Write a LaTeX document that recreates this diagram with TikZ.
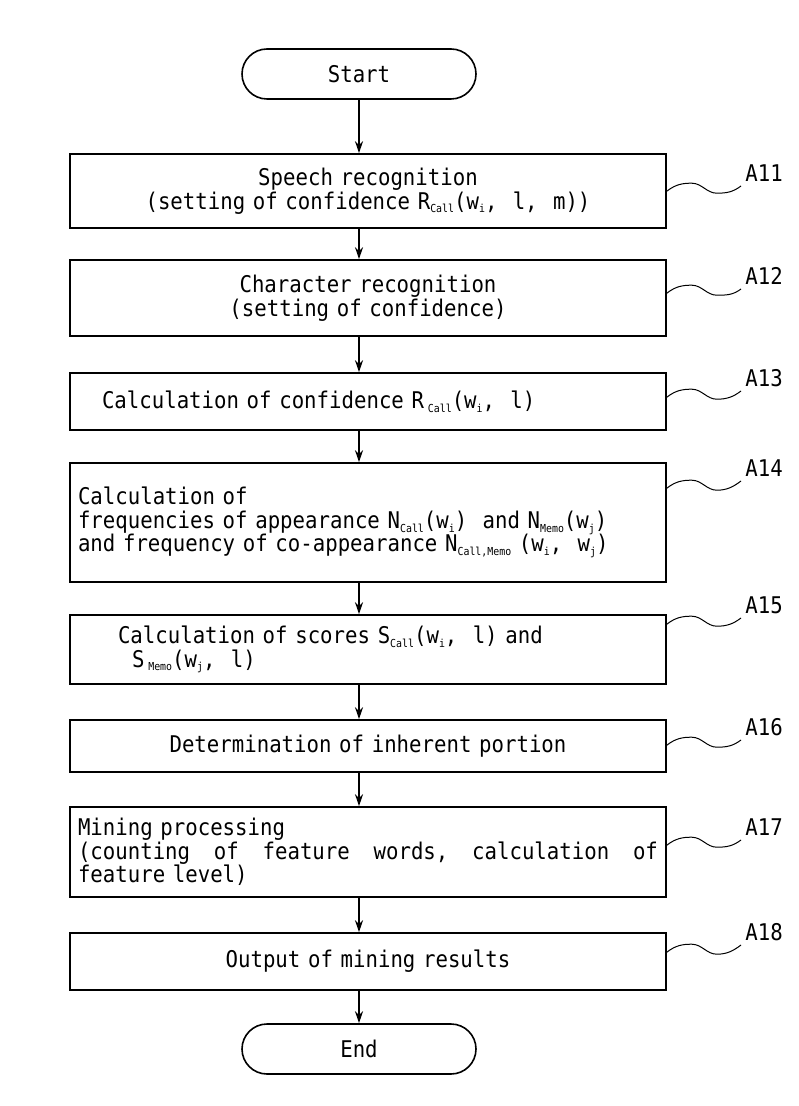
\documentclass[tikz,border=0pt]{standalone}
\usepackage{fontspec}
\setmainfont[FakeStretch=0.9]{DejaVu Sans Mono}
\usetikzlibrary{arrows.meta}

% small lowered index text
\newcommand{\lowidx}[1]{\raisebox{-0.3ex}{\fontsize{5.5}{5.5}\selectfont #1}}

\tikzset{
	stepbox/.style={draw, line width=0.8pt, minimum width=298pt, text width=290pt, inner xsep=4pt, inner ysep=0pt},
	terminal/.style={draw, line width=0.8pt, rounded corners=12.5pt, minimum width=117pt, minimum height=25pt},
	flow/.style={-{Stealth[length=6pt,width=4pt]}, line width=0.8pt},
	wave/.style={line width=0.5pt},
	tag/.style={anchor=south west, inner sep=2pt}
}

\begin{document}
\begin{tikzpicture}[x=0.5pt, y=-0.5pt, font=\fontsize{11.5}{11.8}\selectfont]
		% Page frame
		\useasboundingbox (0,0) rectangle (798,1106);
		
		% Start and end
		\node[terminal] (start) at (359,74) {Start};
		\node[terminal] (end) at (359,1049) {End};
		
		% Process steps
		\node[stepbox, minimum height=37pt, align=center] (a11) at (368,191)
			{Speech recognition\\(setting of confidence R\lowidx{Call}(w\lowidx{i},\ \ l,\ \ m))};
		\node[stepbox, minimum height=38pt, align=center] (a12) at (368,298)
			{Character recognition\\(setting of confidence)};
		\node[stepbox, minimum height=28.5pt, align=left] (a13) at (368,401.5)
			{\hspace*{12pt}Calculation of confidence R\,\lowidx{Call}(w\lowidx{i},\ \ l)};
		\node[stepbox, minimum height=59.5pt, align=left] (a14) at (368,522.5)
			{Calculation of\\frequencies of appearance N\lowidx{Call}(w\lowidx{i})\ \ and N\lowidx{Memo}(w\lowidx{j})\\and frequency of co-appearance N\lowidx{Call,Memo} (w\lowidx{i},\ \ w\lowidx{j})};
		\node[stepbox, minimum height=34.5pt, align=left] (a15) at (368,649.5)
			{\hspace*{20pt}Calculation of scores S\lowidx{Call}(w\lowidx{i},\ \ l) and\\\hspace*{27pt}S\,\lowidx{Memo}(w\lowidx{j},\ \ l)};
		\node[stepbox, minimum height=26pt, align=center] (a16) at (368,746)
			{Determination of inherent portion};
		\node[stepbox, minimum height=45pt, align=left] (a17) at (368,852)
			{Mining processing\\\makebox[290pt][l]{(counting\hfill of\hfill feature\hfill words,\hfill calculation\hfill of}\\feature level)};
		\node[stepbox, minimum height=28.5pt, align=center] (a18) at (368,961.5)
			{Output of mining results};
		
		% Step labels
		\node[tag] (l11) at (741,186) {A11};
		\node[tag] (l12) at (741,289) {A12};
		\node[tag] (l13) at (741,391) {A13};
		\node[tag] (l14) at (741,481) {A14};
		\node[tag] (l15) at (741,618) {A15};
		\node[tag] (l16) at (741,740) {A16};
		\node[tag] (l17) at (741,840) {A17};
		\node[tag] (l18) at (741,945) {A18};
		
		% Wavy leaders from boxes to labels
		\foreach \b/\dy in {11/19, 12/17, 13/12.5, 14/13, 15/5, 16/13, 17/19.5, 18/10} {
			\draw[wave] ([yshift=-\dy pt]a\b.north east) .. controls +(9,-7) and +(-9,0) .. ++(25,-8)
				.. controls +(10,0) and +(-10,0) .. ++(25,10)
				.. controls +(10,0) and +(-8,6) .. (l\b.south west);
		}
		
		% Flow arrows
		\draw[flow] (start.south) -- (start.south |- a11.north);
		\foreach \a/\b in {a11/a12, a12/a13, a13/a14, a14/a15, a15/a16, a16/a17, a17/a18} {
			\draw[flow] (\a.south -| start.south) -- (\b.north -| start.south);
		}
		\draw[flow] (a18.south -| start.south) -- (end.north);
	\end{tikzpicture}
\end{document}
